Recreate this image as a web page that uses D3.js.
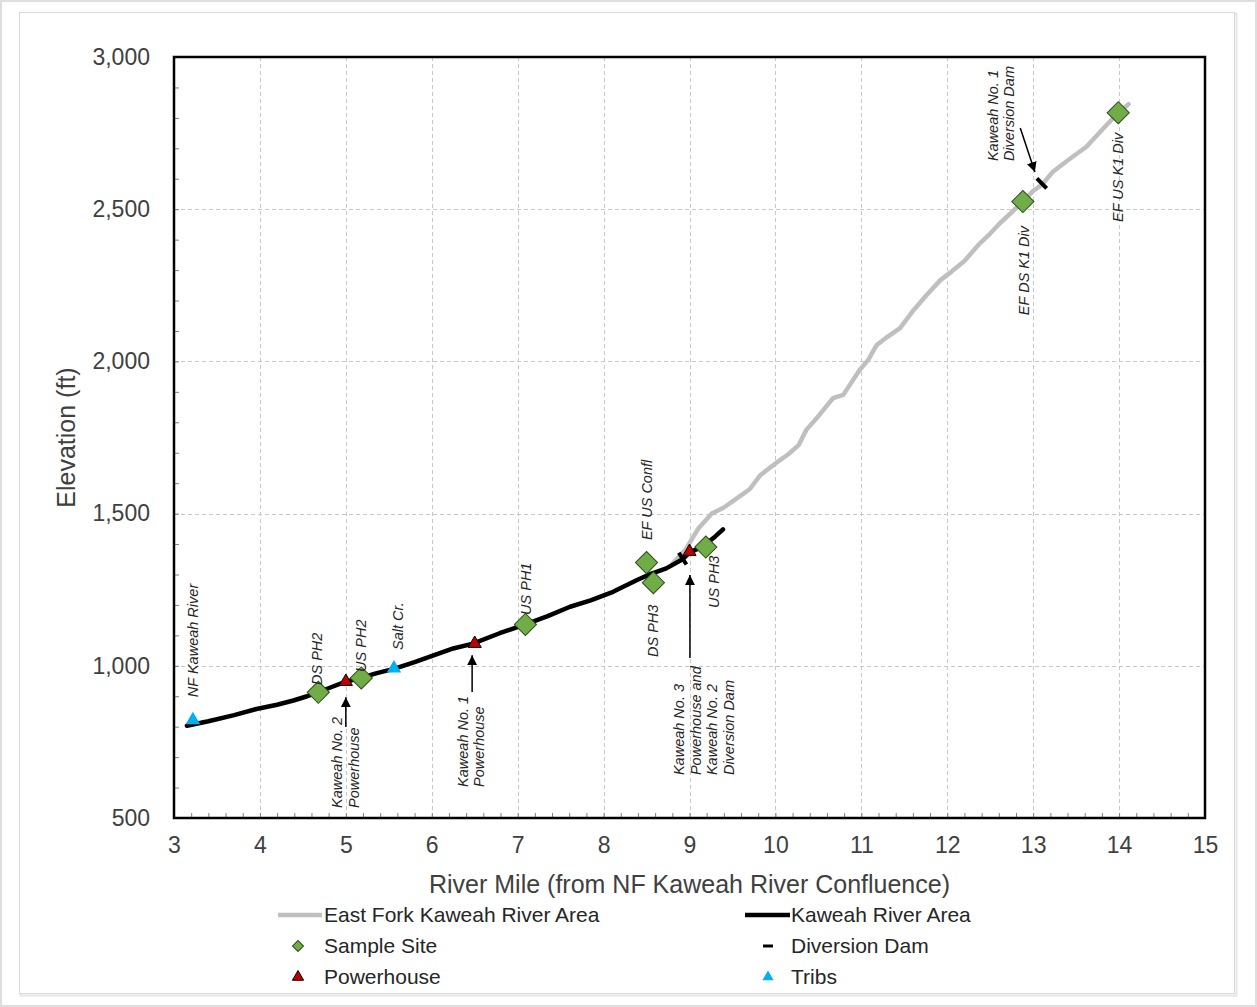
<!DOCTYPE html>
<html><head><meta charset="utf-8">
<script src="https://cdn.jsdelivr.net/npm/d3@7"></script>
<style>
body{margin:0;background:#fff;}
svg{display:block;font-family:"Liberation Sans",Arial,sans-serif;}
</style></head><body>
<svg id="chart" width="1257" height="1007"></svg>
<script>
// ---------------- DATA ----------------
const kaweahMile = [3.15,3.4,3.7,3.96,4.2,4.39,4.55,4.68,4.85,5.0,5.18,5.35,5.56,5.8,5.98,6.25,6.48,6.79,7.09,7.35,7.61,7.85,8.11,8.39,8.55,8.73,8.92,9.0,9.1,9.19,9.3,9.39];
const kaweahElev = [803,818,838,858,872,886,900,913,932,948,960,975,990,1012,1030,1057,1073,1107,1136,1163,1194,1215,1243,1282,1302,1320,1350,1372,1385,1400,1425,1448];

const eastForkMile = [8.80,8.95,9.10,9.26,9.40,9.55,9.70,9.82,10.03,10.15,10.27,10.36,10.50,10.67,10.79,10.98,11.08,11.18,11.30,11.45,11.61,11.75,11.92,12.05,12.20,12.38,12.50,12.61,12.75,12.88,13.00,13.10,13.23,13.40,13.62,13.80,13.99,14.11];
const eastForkElev = [1335,1380,1450,1500,1520,1550,1580,1625,1671,1695,1725,1775,1820,1879,1890,1972,2005,2054,2080,2109,2169,2215,2267,2295,2330,2388,2420,2453,2490,2525,2560,2580,2623,2660,2705,2760,2817,2845];

const sampleNames = ["DS PH2","US PH2","US PH1","EF US Confl","DS PH3","US PH3","EF DS K1 Div","EF US K1 Div"];
const sampleMile  = [4.68,5.18,7.09,8.50,8.58,9.19,12.88,13.99];
const sampleElev  = [913,960,1136,1339,1273,1390,2525,2817];

const powerhouseMile = [5.0,6.5,9.0];
const powerhouseElev = [948,1073,1375];

const damMile = [8.92,13.10];
const damElev = [1352,2585];

const tribNames = ["NF Kaweah River","Salt Cr."];
const tribMile  = [3.22,5.56];
const tribElev  = [822,992];

const xTicks = [3,4,5,6,7,8,9,10,11,12,13,14,15];
const yTicks = [500,1000,1500,2000,2500,3000];

const xTitle = "River Mile (from NF Kaweah River Confluence)";
const yTitle = "Elevation (ft)";

const legendLabels = ["East Fork Kaweah River Area","Kaweah River Area","Sample Site","Diversion Dam","Powerhouse","Tribs"];

// annotation texts (rotated) and where they sit, in chart units
const pointLabelText = ["NF Kaweah River","DS PH2","US PH2","Salt Cr.","US PH1","EF US Confl","DS PH3","US PH3","EF DS K1 Div","EF US K1 Div"];
const pointLabelMile = [3.215,4.66,5.18,5.61,7.10,8.50,8.58,9.28,12.89,13.99];
const pointLabelElev = [897,937,980,1052,1167,1413,1029,1190,2152,2458];

const calloutText = [["Kaweah No. 2","Powerhouse"],["Kaweah No. 1","Powerhouse"],["Kaweah No. 3","Powerhouse and","Kaweah No. 2","Diversion Dam"],["Kaweah No. 1","Diversion Dam"]];
const calloutMile = [4.897,6.36,8.88,12.53];
const calloutElev = [533,602,641,2658];
const arrowFromMile = [5.0,6.47,9.005,12.85];
const arrowFromElev = [799,914,1026,2767];
const arrowToMile   = [5.0,6.47,9.005,13.02];
const arrowToElev   = [897,1035,1298,2622];

// ---------------- CHART ----------------
const W = 1257, H = 1007;
const M = {left:174, right:1205, top:57, bottom:818};
const svg = d3.select("#chart");
const x = d3.scaleLinear().domain([3,15]).range([M.left,M.right]);
const y = d3.scaleLinear().domain([500,3000]).range([M.bottom,M.top]);

svg.append("rect").attr("x",1).attr("y",1).attr("width",W-2).attr("height",H-2)
  .attr("fill","#fff").attr("stroke","#dedede").attr("stroke-width",2);
svg.append("rect").attr("x",20.5).attr("y",13.5).attr("width",1216).attr("height",982)
  .attr("fill","none").attr("stroke","#e6e6e6").attr("stroke-width",2);
svg.append("rect").attr("x",19.5).attr("y",12.5).attr("width",1215).attr("height",981)
  .attr("fill","#fff").attr("stroke","#d9d9d9").attr("stroke-width",1);

const defs = svg.append("defs");
defs.append("marker").attr("id","ah").attr("viewBox","0 0 10 10").attr("refX",10).attr("refY",5)
  .attr("markerWidth",10).attr("markerHeight",10).attr("markerUnits","userSpaceOnUse").attr("orient","auto")
  .append("path").attr("d","M0,0L10,5L0,10z").attr("fill","#000");

// gridlines
const grid = svg.append("g").attr("stroke","#c8c8c8").attr("stroke-width",1).attr("stroke-dasharray","4,3");
grid.selectAll("line.v").data(xTicks.slice(1,-1)).join("line").attr("class","v")
  .attr("x1",d=>Math.round(x(d))+0.5).attr("x2",d=>Math.round(x(d))+0.5).attr("y1",M.top).attr("y2",M.bottom);
grid.selectAll("line.h").data(yTicks.slice(1,-1)).join("line").attr("class","h")
  .attr("y1",d=>Math.round(y(d))+0.5).attr("y2",d=>Math.round(y(d))+0.5).attr("x1",M.left).attr("x2",M.right);

// minor ticks (inside)
const yMinor = d3.range(500,3001,100);
const xMinor = d3.range(0,61).map(i=>3+i*0.2);
svg.append("g").attr("transform",`translate(${M.left},0)`)
  .call(d3.axisLeft(y).tickValues(yMinor).tickSize(-5).tickFormat(""))
  .call(g=>{g.select(".domain").remove(); g.selectAll("line").attr("stroke","#808080");});
svg.append("g").attr("transform",`translate(0,${M.bottom})`)
  .call(d3.axisBottom(x).tickValues(xMinor).tickSize(-5).tickFormat(""))
  .call(g=>{g.select(".domain").remove(); g.selectAll("line").attr("stroke","#808080");});

// tick labels
svg.append("g").attr("transform",`translate(${M.left},0)`)
  .call(d3.axisLeft(y).tickValues(yTicks).tickFormat(d3.format(",")).tickSize(0).tickPadding(24))
  .call(g=>{g.select(".domain").remove();
    g.selectAll("text").attr("font-size",23).attr("fill","#404040").attr("font-family","Liberation Sans, Arial, sans-serif");});
svg.append("g").attr("transform",`translate(0,${M.bottom})`)
  .call(d3.axisBottom(x).tickValues(xTicks).tickFormat(d3.format("d")).tickSize(0).tickPadding(19))
  .call(g=>{g.select(".domain").remove();
    g.selectAll("text").attr("font-size",23).attr("fill","#404040").attr("font-family","Liberation Sans, Arial, sans-serif");});

// axis titles
svg.append("text").attr("x",(M.left+M.right)/2).attr("y",884).attr("dy","0.35em").attr("text-anchor","middle")
  .attr("font-size",25).attr("fill","#404040").text(xTitle);
svg.append("text").attr("transform",`translate(66,${(M.top+M.bottom)/2}) rotate(-90)`).attr("dy","0.35em")
  .attr("text-anchor","middle").attr("font-size",25).attr("fill","#404040").text(yTitle);

// lines
const line = d3.line().x(d=>x(d[0])).y(d=>y(d[1]));
const efPts = eastForkMile.map((m,i)=>[m,eastForkElev[i]]);
const kwPts = kaweahMile.map((m,i)=>[m,kaweahElev[i]]);
svg.append("path").attr("d",line(efPts)).attr("fill","none").attr("stroke","#bfbfbf").attr("stroke-width",4.5).attr("stroke-linejoin","round").attr("stroke-linecap","round");
svg.append("path").attr("d",line(kwPts)).attr("fill","none").attr("stroke","#000").attr("stroke-width",4.5).attr("stroke-linejoin","round").attr("stroke-linecap","round");

// diversion dams: short bar perpendicular to nearest river line
function interp(ms, es, m){
  if (m < ms[0] || m > ms[ms.length-1]) return null;
  for (let i=1;i<ms.length;i++){ if (m<=ms[i]){ const t=(m-ms[i-1])/(ms[i]-ms[i-1]); return es[i-1]+t*(es[i]-es[i-1]); } }
  return es[es.length-1];
}
damMile.forEach((m,i)=>{
  const e = damElev[i];
  const cands = [[kaweahMile,kaweahElev],[eastForkMile,eastForkElev]].filter(c=>interp(c[0],c[1],m)!==null);
  cands.sort((a,b)=>Math.abs(interp(a[0],a[1],m)-e)-Math.abs(interp(b[0],b[1],m)-e));
  const [ms,es] = cands[0];
  const m0=Math.max(ms[0],m-0.15), m1=Math.min(ms[ms.length-1],m+0.15);
  const dx = x(m1)-x(m0), dy = y(interp(ms,es,m1))-y(interp(ms,es,m0));
  const ang = Math.atan2(dy,dx)*180/Math.PI + 90;
  svg.append("line").attr("transform",`translate(${x(m)},${y(e)}) rotate(${ang})`)
    .attr("x1",-7).attr("x2",7).attr("y1",0).attr("y2",0).attr("stroke","#000").attr("stroke-width",4);
});

// markers
const diamond = d3.symbol().type(d3.symbolSquare).size(245)();
const tri = d3.symbol().type(d3.symbolTriangle);
svg.append("g").selectAll("path").data(sampleMile).join("path")
  .attr("d",diamond).attr("transform",(d,i)=>`translate(${x(d)},${y(sampleElev[i])}) rotate(45)`)
  .attr("fill","#70ad47").attr("stroke","#2e4a1e").attr("stroke-width",1);
svg.append("g").selectAll("path").data(powerhouseMile).join("path")
  .attr("d",tri.size(75)()).attr("transform",(d,i)=>`translate(${x(d)},${y(powerhouseElev[i])})`)
  .attr("fill","#c00000").attr("stroke","#000").attr("stroke-width",1);
svg.append("g").selectAll("path").data(tribMile).join("path")
  .attr("d",tri.size(90)()).attr("transform",(d,i)=>`translate(${x(d)},${y(tribElev[i])})`)
  .attr("fill","#00b0f0");

// arrows
arrowFromMile.forEach((m,i)=>{
  svg.append("line").attr("x1",x(m)).attr("y1",y(arrowFromElev[i])).attr("x2",x(arrowToMile[i])).attr("y2",y(arrowToElev[i]))
    .attr("stroke","#000").attr("stroke-width",1.5).attr("marker-end","url(#ah)");
});

// rotated labels
function vtext(lines, m, e){
  const t = svg.append("text").attr("transform",`translate(${x(m)},${y(e)}) rotate(-90)`)
    .attr("font-size",14.5).attr("font-style","italic").attr("fill","#262626");
  lines.forEach((l,i)=>t.append("tspan").attr("x",0).attr("y",i*16.5).attr("dy","0.35em").text(l));
}
pointLabelText.forEach((s,i)=>vtext([s],pointLabelMile[i],pointLabelElev[i]));
calloutText.forEach((ls,i)=>vtext(ls,calloutMile[i],calloutElev[i]));

// plot frame
svg.append("rect").attr("x",M.left).attr("y",M.top).attr("width",M.right-M.left).attr("height",M.bottom-M.top)
  .attr("fill","none").attr("stroke","#000").attr("stroke-width",2.5);

// legend
const lg = svg.append("g").attr("font-size",21).attr("fill","#262626");
const col1 = 278, col2 = 745, tx1 = 324, tx2 = 791, rows = [915,946,977];
lg.append("line").attr("x1",col1).attr("x2",322).attr("y1",rows[0]).attr("y2",rows[0]).attr("stroke","#bfbfbf").attr("stroke-width",4.5);
lg.append("line").attr("x1",col2).attr("x2",790).attr("y1",rows[0]).attr("y2",rows[0]).attr("stroke","#000").attr("stroke-width",4.5);
lg.append("path").attr("d",d3.symbol().type(d3.symbolSquare).size(60)()).attr("transform",`translate(298,${rows[1]}) rotate(45)`)
  .attr("fill","#70ad47").attr("stroke","#2e4a1e").attr("stroke-width",1);
lg.append("line").attr("x1",763).attr("x2",773).attr("y1",rows[1]).attr("y2",rows[1]).attr("stroke","#000").attr("stroke-width",3);
lg.append("path").attr("d",d3.symbol().type(d3.symbolTriangle).size(55)()).attr("transform",`translate(298,${rows[2]})`)
  .attr("fill","#c00000").attr("stroke","#000").attr("stroke-width",1);
lg.append("path").attr("d",d3.symbol().type(d3.symbolTriangle).size(55)()).attr("transform",`translate(768,${rows[2]})`)
  .attr("fill","#00b0f0");
const lpos = [[tx1,rows[0]],[tx2,rows[0]],[tx1,rows[1]],[tx2,rows[1]],[tx1,rows[2]],[tx2,rows[2]]];
legendLabels.forEach((s,i)=>lg.append("text").attr("x",lpos[i][0]).attr("y",lpos[i][1]).attr("dy","0.35em").text(s));
</script>
</body></html>
